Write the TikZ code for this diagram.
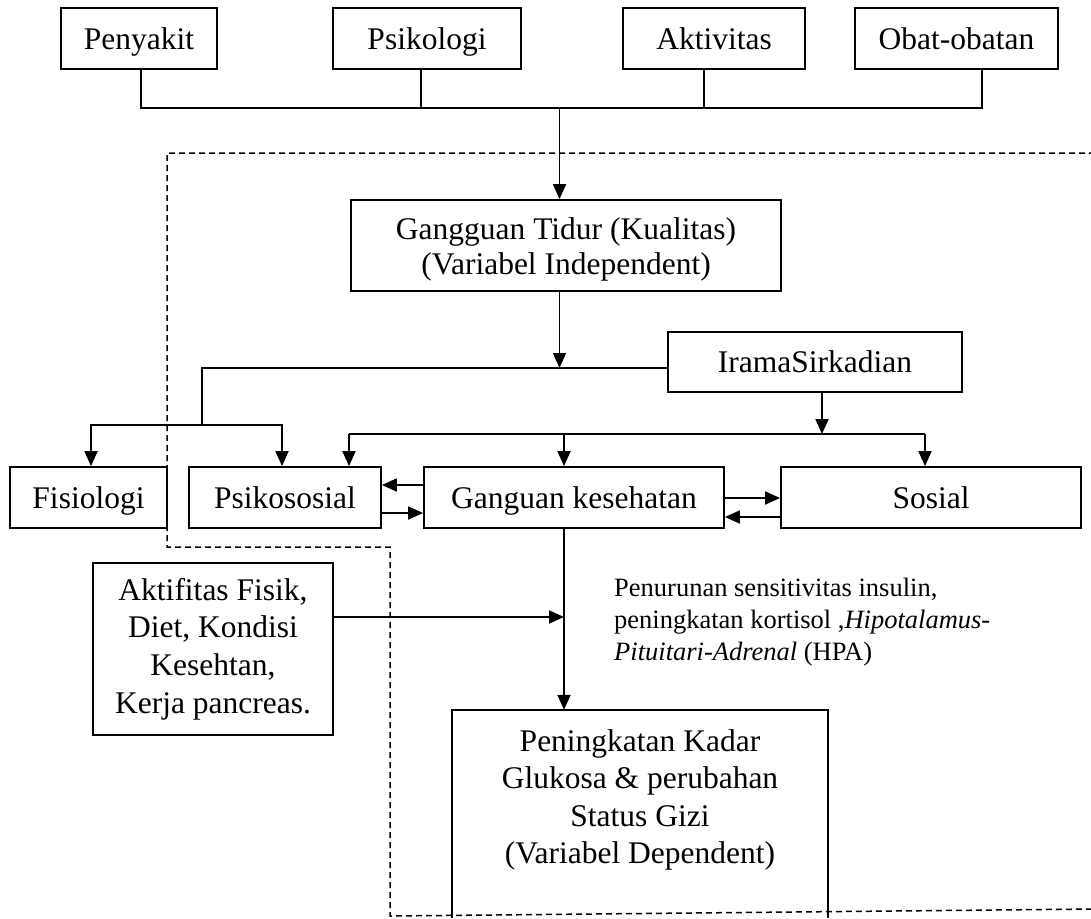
\documentclass[tikz,border=0pt]{standalone}
\usepackage{fontspec}
\setmainfont{Liberation Serif}
\usetikzlibrary{arrows.meta}
\begin{document}
\begin{tikzpicture}[x=1pt,y=-1pt,
  box/.style={draw, line width=1.8pt, inner sep=0pt, align=center, font=\fontsize{31.5}{35}\selectfont},
  onebox/.style={box, text height=21pt, text depth=0pt},
  plain text/.style={inner sep=0pt, align=center, font=\fontsize{31.5}{37.5}\selectfont},
  conn/.style={line width=1.8pt},
  arr/.style={conn, -{Triangle[length=15pt,width=13pt]}},
  frame/.style={line width=1.5pt, dash pattern=on 6pt off 4pt}]
\useasboundingbox (0,0) rectangle (1091,918);

% top boxes
\node[onebox, minimum width=156, minimum height=61] (penyakit) at (139,38.5) {Penyakit};
\node[onebox, minimum width=188, minimum height=61] (psikologi) at (427,38.5) {Psikologi};
\node[onebox, minimum width=182, minimum height=61] (aktivitas) at (714,38.5) {Aktivitas};
\node[onebox, minimum width=203, minimum height=61] (obat) at (956.5,38.5) {Obat-obatan};

% dashed frame
\draw[frame] (1095,153) -- (167,153) -- (167,547) -- (390,547) -- (390,916) -- (1095,909);

\node[box, minimum width=430, minimum height=91] (tidur) at (566,245.5) {};
\node[plain text, font=\fontsize{31.5}{35}\selectfont] (tidurtext) at (566,249) {Gangguan Tidur (Kualitas)\\(Variabel Independent)};
\node[onebox, minimum width=294, minimum height=60] (irama) at (815,362) {IramaSirkadian};

\node[onebox, minimum width=157, minimum height=61] (fisiologi) at (88.5,497.5) {Fisiologi};
\node[onebox, minimum width=192, minimum height=61] (psikososial) at (285,497.5) {Psikososial};
\node[onebox, minimum width=300, minimum height=61] (ganguan) at (574,497.5) {Ganguan kesehatan};
\node[onebox, minimum width=300, minimum height=61] (sosial) at (931,497.5) {Sosial};

\node[box, minimum width=240, minimum height=172, font=\fontsize{31.5}{37.7}\selectfont] (aktifitas) at (213,649) {Aktifitas Fisik,\\Diet, Kondisi\\Kesehtan,\\Kerja pancreas.};

\node[inner sep=0pt, minimum width=376, minimum height=208] (ping) at (640,814) {};
\draw[conn] (ping.south west) -- (ping.north west) -- (ping.north east) -- (ping.south east);
\node[plain text] (pingtext) at (640,800) {Peningkatan Kadar\\Glukosa \& perubahan\\Status Gizi\\(Variabel Dependent)};

\node[anchor=north west, inner sep=0pt, align=left, font=\fontsize{26.5}{32}\selectfont] (note) at (614,578) {Penurunan sensitivitas insulin,\\peningkatan kortisol ,\textit{Hipotalamus-}\\\textit{Pituitari-Adrenal} (HPA)};

% top connectors
\coordinate (d1) at (141,108);
\coordinate (d2) at (421,108);
\coordinate (d3) at (704,108);
\coordinate (d4) at (982,108);
\coordinate (hub) at (559.5,108);
\draw[conn] (d1 |- penyakit.south) -- (d1) -- (d4) -- (d4 |- obat.south);
\draw[conn] (d2 |- psikologi.south) -- (d2);
\draw[conn] (d3 |- aktivitas.south) -- (d3);
\draw[arr] (hub) -- (hub |- tidur.north);

% from tidur
\coordinate (j1) at (559.5,368);
\draw[arr] (hub |- tidur.south) -- (j1);
\coordinate (s1) at (202,425);
\coordinate (f1) at (91,425);
\coordinate (f2) at (282,425);
\draw[conn] (irama.west |- j1) -- (s1 |- j1) -- (s1);
\draw[arr] (s1) -- (f1) -- (f1 |- fisiologi.north);
\draw[arr] (s1) -- (f2) -- (f2 |- psikososial.north);

% from irama
\coordinate (r) at (822,434);
\coordinate (b1) at (349,434);
\coordinate (b2) at (564,434);
\coordinate (b3) at (925,434);
\draw[arr] (r |- irama.south) -- (r);
\draw[conn] (b1) -- (b3);
\draw[arr] (b1) -- (b1 |- psikososial.north);
\draw[arr] (b2) -- (b2 |- ganguan.north);
\draw[arr] (b3) -- (b3 |- sosial.north);

% mutual arrows
\draw[arr] ([yshift=12.5pt]ganguan.west) -- ([yshift=12.5pt]psikososial.east);
\draw[arr] ([yshift=-15.5pt]psikososial.east) -- ([yshift=-15.5pt]ganguan.west);
\draw[arr] ([yshift=-0.5pt]ganguan.east) -- ([yshift=-0.5pt]sosial.west);
\draw[arr] ([yshift=-19.5pt]sosial.west) -- ([yshift=-19.5pt]ganguan.east);

% down to result
\coordinate (g) at (564,528);
\draw[arr] (g |- ganguan.south) -- (g |- ping.north);
\draw[arr] ([yshift=32pt]aktifitas.east) -- ([yshift=32pt]aktifitas.east -| g);
\end{tikzpicture}
\end{document}
